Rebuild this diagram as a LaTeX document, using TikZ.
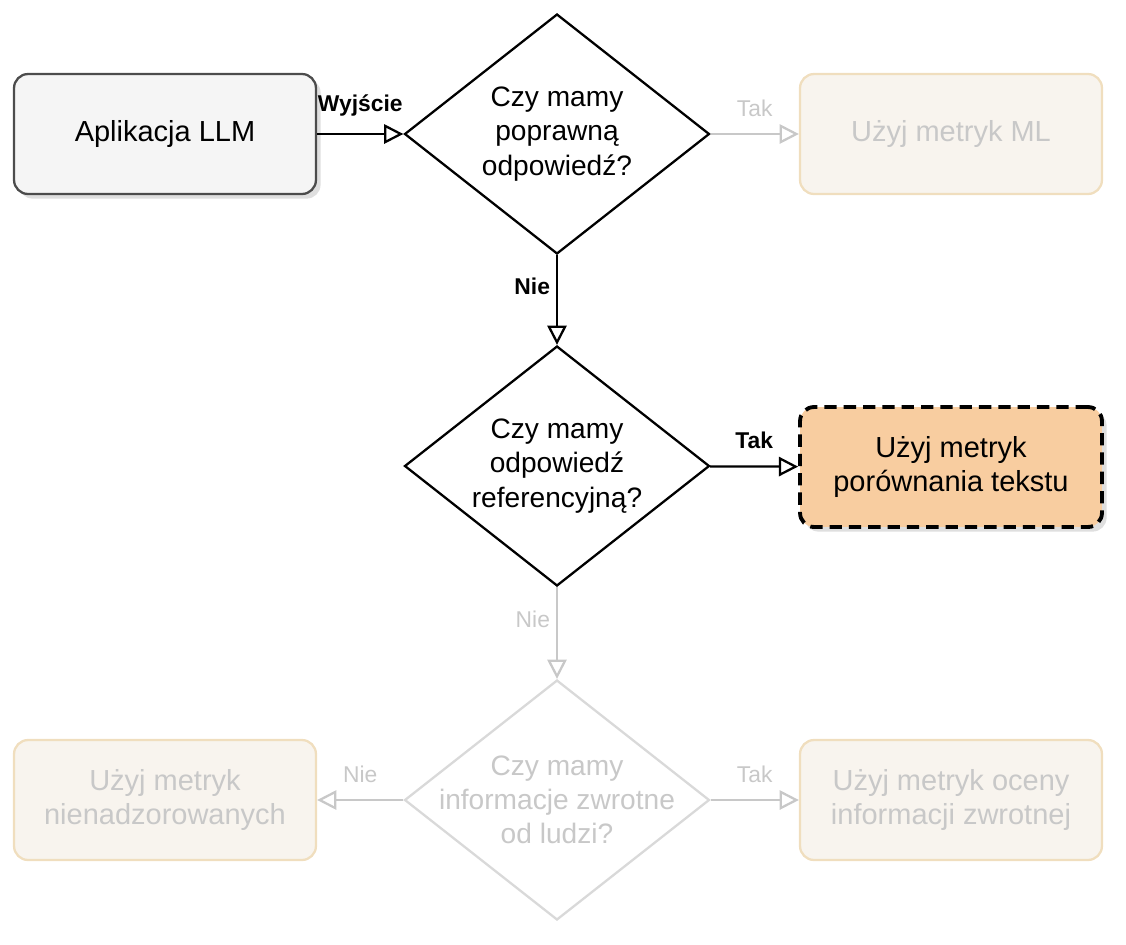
\documentclass[tikz,border=0pt]{standalone}
\usepackage{fontspec}
\setmainfont{Liberation Sans}
\usepackage{tikz}
\usetikzlibrary{arrows.meta,shapes.geometric,shadows}

\definecolor{faintline}{RGB}{240,222,190}
\definecolor{faintfill}{RGB}{248,244,238}
\definecolor{faintgray}{RGB}{200,200,200}
\definecolor{hotfill}{RGB}{248,205,160}

\begin{document}
\begin{tikzpicture}[x=0.02cm,y=-0.02cm,
  box/.style={rectangle, rounded corners=8pt, minimum width=6.04cm, minimum height=2.4cm,
    align=center, font=\fontsize{16.5}{19.5}\selectfont, line width=1.3pt},
  dec/.style={diamond, aspect=1.27, minimum width=6.1cm, minimum height=4.8cm, inner sep=0pt,
    align=center, font=\fontsize{16}{19.5}\selectfont, line width=1.3pt, draw=black, fill=white},
  faded/.style={draw=faintline, fill=faintfill, text=faintgray},
  fadedec/.style={draw=faintgray!70, text=faintgray, inner sep=-11pt},
  lab/.style={font=\bfseries\fontsize{13}{15}\selectfont},
  fadelab/.style={font=\fontsize{13}{15}\selectfont, text=faintgray},
  link/.style={-{Triangle[open,length=11pt,width=11pt]}, line width=1.3pt},
  fadelink/.style={link, draw=faintgray}]
  \useasboundingbox (0,0) rectangle (1126,944);

  % main line
  \node[box, draw=black!70, fill=black!4, drop shadow={opacity=0.25}] (app) at (165,134) {Aplikacja LLM};
  \node[dec] (q1) at (557,134) {Czy mamy\\poprawną\\odpowiedź?};
  \node[dec] (q2) at (557,466) {Czy mamy\\odpowiedź\\referencyjną?};
  \node[box, draw=black, dash pattern=on 7pt off 4pt, line width=2.2pt, fill=hotfill, drop shadow={opacity=0.25}] (text) at (951,467) {Użyj metryk\\porównania tekstu};

  % faded part
  \node[box, faded] (ml) at (951,134) {Użyj metryk ML};
  \node[dec, fadedec] (q3) at (557,800) {Czy mamy\\informacje zwrotne\\od ludzi?};
  \node[box, faded] (unsup) at (165,800) {Użyj metryk\\nienadzorowanych};
  \node[box, faded] (human) at (951,800) {Użyj metryk oceny\\informacji zwrotnej};

  \draw[link] (app) -- node[lab, above, yshift=6pt] {Wyjście} (q1);
  \draw[link] (q1) -- node[lab, left, pos=0.35] {Nie} (q2);
  \draw[link] (q2) -- node[lab, above, yshift=6pt] {Tak} (text);
  \draw[fadelink] (q1) -- node[fadelab, above, yshift=6pt] {Tak} (ml);
  \draw[fadelink] (q2) -- node[fadelab, left, pos=0.35] {Nie} (q3);
  \draw[fadelink] (q3) -- node[fadelab, above, yshift=6pt] {Nie} (unsup);
  \draw[fadelink] (q3) -- node[fadelab, above, yshift=6pt] {Tak} (human);
\end{tikzpicture}
\end{document}
